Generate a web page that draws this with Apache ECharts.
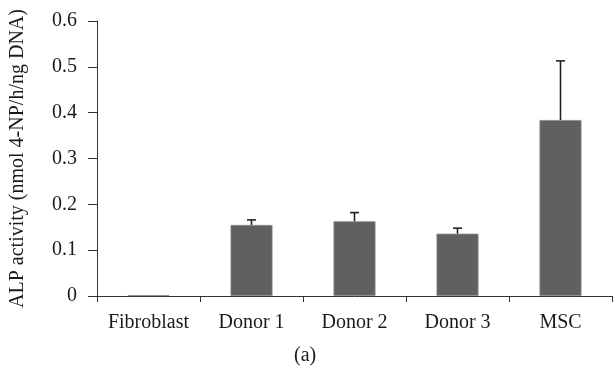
<!DOCTYPE html>
<html>
<head>
<meta charset="utf-8">
<script src="https://cdn.jsdelivr.net/npm/echarts@6/dist/echarts.min.js"></script>
<style>
html,body{margin:0;padding:0;background:#fff;}
#chart{width:616px;height:378px;}
</style>
</head>
<body>
<div id="chart"></div>
<script>
// ALP activity per cell source, mean with upper error (SD)
const categories = ['Fibroblast', 'Donor 1', 'Donor 2', 'Donor 3', 'MSC'];
const meanValues = [0.002, 0.155, 0.163, 0.136, 0.384];
const errorValues = [0, 0.011, 0.019, 0.012, 0.129];
const yTicks = [0, 0.1, 0.2, 0.3, 0.4, 0.5, 0.6];

const FONT = 'Liberation Serif';
const FS = 20;
const chart = echarts.init(document.getElementById('chart'));

const errorData = categories.map((c, i) => [i, meanValues[i], meanValues[i] + errorValues[i]]);

chart.setOption({
  animation: false,
  backgroundColor: '#fff',
  grid: { left: 96, right: 4, top: 21, bottom: 82, containLabel: false },
  xAxis: {
    type: 'category',
    data: categories,
    axisLine: { lineStyle: { color: '#333', width: 1 } },
    axisTick: { show: true, alignWithLabel: false, interval: 0, length: 6, lineStyle: { color: '#333' } },
    axisLabel: { interval: 0, hideOverlap: false, color: '#1a1a1a', fontFamily: FONT, fontSize: FS, margin: 17 }
  },
  yAxis: {
    type: 'value',
    min: yTicks[0],
    max: yTicks[yTicks.length - 1],
    interval: 0.1,
    name: 'ALP activity (nmol 4-NP/h/ng DNA)',
    nameLocation: 'middle',
    nameGap: 69,
    nameTextStyle: { color: '#1a1a1a', fontFamily: FONT, fontSize: FS },
    splitLine: { show: false },
    axisLine: { show: true, lineStyle: { color: '#333', width: 1 } },
    axisTick: { show: true, inside: false, length: 9, lineStyle: { color: '#333' } },
    axisLabel: { color: '#1a1a1a', fontFamily: FONT, fontSize: FS, margin: 20,
      formatter: v => (v === 0 ? '0' : v.toFixed(1)) }
  },
  series: [
    {
      type: 'bar',
      data: meanValues,
      barWidth: 42,
      itemStyle: { color: '#606060', borderColor: '#8a8a8a', borderWidth: 0.8 },
      z: 2
    },
    {
      type: 'custom',
      data: errorData,
      z: 3,
      renderItem: function (params, api) {
        const x = api.value(0);
        const lo = api.coord([x, api.value(1)]);
        const hi = api.coord([x, api.value(2)]);
        if (Math.abs(lo[1] - hi[1]) < 0.5) return null;
        const cap = 4.5;
        const style = { stroke: '#222', lineWidth: 1.6 };
        return {
          type: 'group',
          children: [
            { type: 'line', shape: { x1: lo[0], y1: lo[1], x2: hi[0], y2: hi[1] }, style: style },
            { type: 'line', shape: { x1: hi[0] - cap, y1: hi[1], x2: hi[0] + cap, y2: hi[1] }, style: style }
          ]
        };
      }
    }
  ],
  graphic: [
    { type: 'text', left: 294, top: 346,
      style: { text: '(a)', fill: '#1a1a1a', font: FS + 'px "Liberation Serif"' } }
  ]
});
</script>
</body>
</html>
